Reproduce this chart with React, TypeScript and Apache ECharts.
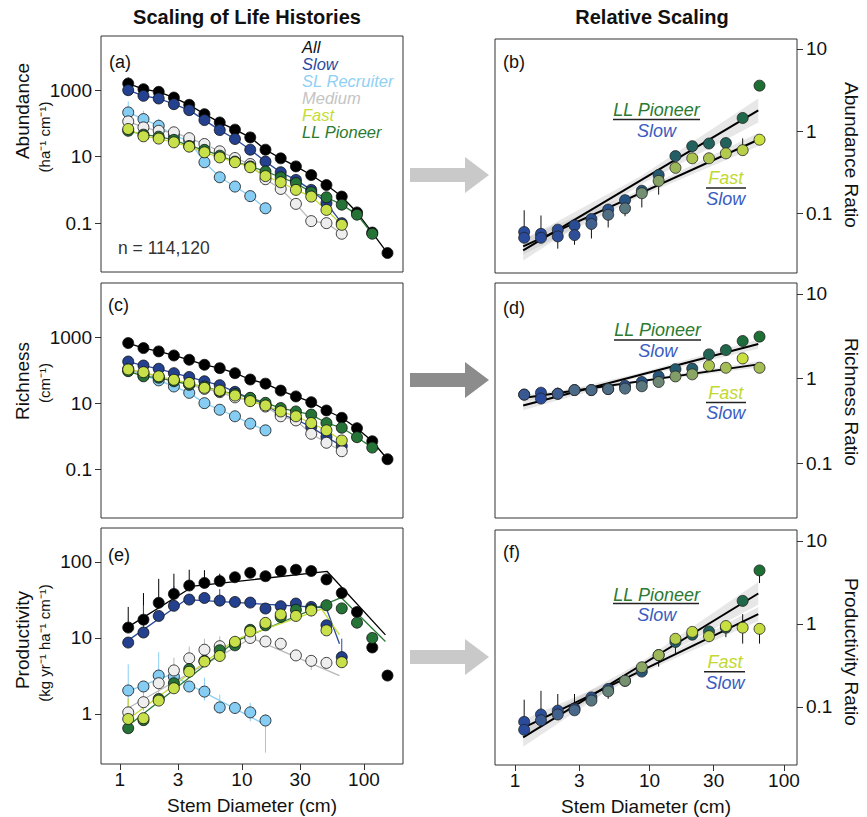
import React, { useEffect, useRef } from "react";
import * as echarts from "echarts";

// ---------- DATA ----------
const xBins = [1.17, 1.56, 2.08, 2.77, 3.7, 4.93, 6.58, 8.77, 11.7, 15.6, 20.8, 27.7, 37.0, 49.3, 65.8, 87.7, 117, 156];
const xTicks = [1, 3, 10, 30, 100];
const densTicks = [0.1, 10, 1000];
const prodTicks = [1, 10, 100];
const ratioTicks = [0.1, 1, 10];

// (a) Abundance (ha-1 cm-1)
const abAll = [1585, 1070, 890, 600, 363, 190, 107, 65, 38, 16.2, 8.9, 5.1, 2.8, 1.4, 0.63, 0.21, 0.052, 0.0126];
const abSlow = [1000, 676, 562, 380, 251, 126, 63, 34, 16.2, 7.1, 3.4, 2.0, 1.0, 0.4, 0.1];
const abSLR = [214, 135, 85, 43, 30, 6.8, 2.4, 1.26, 0.65, 0.28];
const abMed = [115, 76, 60, 54, 36, 24, 14.5, 9.1, 6.0, 2.1, 1.07, 0.38, 0.115, 0.1, 0.048];
const abFast = [68, 41, 35, 27, 20, 13.5, 9.5, 6.8, 4.8, 2.6, 1.7, 1.0, 0.63, 0.25, 0.089];
const abLLP = [60, 46, 40, 32, 21, 16, 10.7, 7.1, 5.1, 3.6, 2.4, 1.6, 0.85, 0.6, 0.36, 0.18, 0.048];
const abAllErr = [[1.17, 1585, 2400], [1.56, 1070, 1350]];
const abSLRErr = [[1.17, 214, 460], [1.56, 135, 240], [2.08, 85, 135]];

// (c) Richness (cm-1)
const rcAll = [660, 465, 370, 278, 206, 145, 115, 81, 52, 39, 24, 16, 10.7, 6.0, 3.6, 1.74, 0.7, 0.2];
const rcSlow = [182, 138, 110, 81, 62, 46, 35, 22, 14, 9, 4.6, 3.2, 1.9, 0.95, 0.5];
const rcSLR = [110, 69, 49, 32, 20.5, 10, 6.3, 4.0, 2.4, 1.5];
const rcMed = [98, 81, 62, 49, 36, 27, 21.5, 15, 12, 7.9, 4.0, 3.0, 1.18, 0.63, 0.35];
const rcFast = [105, 87, 65, 51, 41, 29, 24, 17, 11.5, 8.5, 5.6, 4.0, 2.5, 1.5, 0.74];
const rcLLP = [93, 65, 59, 46, 37, 32, 23, 19, 14.5, 10.2, 7.1, 5.6, 4.5, 2.5, 1.8, 0.93, 0.45];

// (e) Productivity (kg yr-1 ha-1 cm-1)
const prAll = [13.7, 17.4, 29, 38, 49, 53, 56, 63, 72, 65, 76, 79, 76, 59, 39, 22, 7.5, 3.2];
const prSlow = [8.7, 11.8, 19.5, 26.5, 32, 33.6, 31, 29.8, 29.2, 24.4, 26.2, 28.4, 25.6, 14.7, 5.6];
const prSLR = [2.04, 2.3, 3.2, 3.1, 2.3, 1.97, 1.22, 1.2, 1.05, 0.82];
const prMed = [1.05, 1.43, 2.54, 3.74, 5.4, 7.0, 7.8, 8.6, 10, 9.0, 8.4, 5.9, 5.0, 4.7];
const prFast = [0.86, 0.88, 1.5, 2.18, 3.6, 4.9, 5.8, 8.9, 12.2, 15.8, 20.4, 19.5, 23, 12.6, 4.8];
const prLLP = [0.65, 0.83, 1.58, 2.54, 3.9, 5.0, 6.9, 8.0, 12.8, 14.7, 18.9, 23.5, 23.8, 27, 24.5, 15.9, 10];
const prAllFit = [[1.17, 14], [4.0, 48], [50, 75], [150, 11]];
const prSlowFit = [[1.17, 9.3], [3.5, 32], [49, 25], [63, 8.4]];
const prSLRFit = [[1.17, 2.0], [2.6, 3.3], [15.6, 0.72]];
const prMedFit = [[1.17, 1.2], [12, 10], [63, 3.2]];
const prFastFit = [[1.17, 0.85], [8.8, 9.5], [45, 24], [63, 11]];
const prLLPFit = [[1.17, 0.7], [8.8, 9], [65, 34], [150, 9]];
const prAllErr = [[1.17, 13.7, 25.6], [1.56, 17.4, 39], [2.08, 29, 60], [2.77, 38, 70], [3.7, 49, 79], [4.93, 53, 78], [6.58, 56, 70]];
const prSlowErr = [[1.56, 11.8, 27], [2.77, 26.5, 48], [6.58, 31, 44], [65.8, 5.6, 9.8]];
const prSLRErr = [[1.17, 1.3, 4.5], [2.08, 2.3, 6.5], [2.77, 2.4, 4.2], [4.93, 1.5, 3.0], [6.58, 1.0, 1.8], [11.7, 0.8, 1.4], [15.6, 0.31, 1.0]];
const prMedErr = [[1.17, 0.8, 1.6], [1.56, 1.1, 2.6], [2.08, 1.9, 3.6], [2.77, 2.8, 5.5], [3.7, 4.2, 7.7], [4.93, 5.5, 9.8], [6.58, 6.5, 10.5], [37.0, 3.8, 5.5]];
const prFastErr = [[1.17, 0.6, 1.6], [3.7, 3.0, 4.5], [8.77, 7.5, 10.5], [37.0, 19, 26]];

// (b) Abundance ratio
const abLLPr = [0.060, 0.057, 0.064, 0.072, 0.086, 0.112, 0.146, 0.19, 0.295, 0.5, 0.66, 0.71, 0.72, 1.45, 3.58];
const abFastr = [0.051, 0.051, 0.053, 0.055, 0.075, 0.097, 0.116, 0.177, 0.25, 0.36, 0.47, 0.47, 0.54, 0.59, 0.79];
const abLLPLine = [[1.15, 0.0358], [64.4, 1.79]];
const abFastLine = [[1.15, 0.04], [64.4, 0.79]];
const abLLPBand = [[1.15, 0.027, 0.048], [8.6, 0.225, 0.285], [64.4, 1.28, 2.5]];
const abFastBand = [[1.15, 0.032, 0.05], [8.6, 0.163, 0.194], [64.4, 0.66, 0.95]];
const abRatioErr = [[1.17, 0.060, 0.11], [1.56, 0.057, 0.095], [2.08, 0.0376, 0.053], [2.77, 0.042, 0.055], [3.7, 0.05, 0.075], [4.93, 0.068, 0.097], [6.58, 0.093, 0.116], [8.77, 0.119, 0.177], [11.7, 0.17, 0.25], [49.3, 0.59, 0.82]];

// (d) Richness ratio
const rcLLPr = [0.645, 0.68, 0.66, 0.73, 0.73, 0.75, 0.82, 0.91, 1.06, 1.29, 1.31, 1.93, 2.17, 2.78, 3.13];
const rcFastr = [0.645, 0.58, 0.66, 0.73, 0.73, 0.75, 0.76, 0.81, 0.91, 1.06, 1.12, 1.42, 1.34, 1.73, 1.34];
const rcLLPLine = [[1.15, 0.48], [64.4, 2.56]];
const rcFastLine = [[1.15, 0.59], [64.4, 1.47]];
const rcLLPBand = [[1.15, 0.42, 0.55], [8.6, 1.05, 1.17], [64.4, 2.25, 2.9]];
const rcFastBand = [[1.15, 0.54, 0.64], [8.6, 0.9, 0.96], [64.4, 1.35, 1.6]];
const rcRatioErr = [[1.17, 0.645, 0.72], [1.56, 0.68, 0.75], [2.08, 0.66, 0.78], [65.8, 3.13, 3.4]];

// (f) Productivity ratio
const prLLPr = [0.066, 0.081, 0.090, 0.095, 0.13, 0.164, 0.206, 0.266, 0.42, 0.605, 0.74, 0.81, 0.9, 1.89, 4.4];
const prFastr = [0.053, 0.069, 0.081, 0.091, 0.119, 0.154, 0.206, 0.30, 0.42, 0.66, 0.80, 0.71, 0.94, 0.9, 0.87];
const prLLPLine = [[1.15, 0.043], [64.4, 2.32]];
const prFastLine = [[1.15, 0.056], [64.4, 1.31]];
const prLLPBand = [[1.15, 0.033, 0.056], [8.6, 0.29, 0.345], [64.4, 1.7, 3.2]];
const prFastBand = [[1.15, 0.045, 0.07], [8.6, 0.25, 0.29], [64.4, 1.08, 1.6]];
const prRatioErr = [[1.17, 0.066, 0.122], [1.56, 0.081, 0.156], [2.08, 0.081, 0.143], [2.77, 0.095, 0.143], [3.7, 0.107, 0.13], [4.93, 0.125, 0.164], [11.7, 0.305, 0.42], [15.6, 0.44, 0.66], [37.0, 0.69, 0.81], [49.3, 0.578, 1.31], [65.8, 0.578, 0.87], [65.8, 3.1, 4.4]];

// ---------- STYLE ----------
const FONT = "'Liberation Sans', Arial, Helvetica, sans-serif";
const G: Record<string, { line: string; fill: string; text: string }> = {
  all: { line: "#000000", fill: "#000000", text: "#111111" },
  slow: { line: "#2a4a9a", fill: "#24418f", text: "#2c4aa0" },
  slr: { line: "#8acff3", fill: "#86cdf3", text: "#8fd0f5" },
  med: { line: "#b8b8b8", fill: "#eeeeee", text: "#c4c4c4" },
  fast: { line: "#c4dc3c", fill: "#c8e04a", text: "#c4dc34" },
  llp: { line: "#2a7a36", fill: "#257336", text: "#2b7a30" },
};
const C_SLOW = "#2a4b9b";
const C_FAST = "#c9e03f";
const C_LLP = "#1d6f34";

const L = (v: number) => Math.log10(v);
const P = (xs: number[], ys: number[]) => ys.map((y, i) => [L(xs[i]), L(y)]);

function hex(c: string) {
  return [1, 3, 5].map((i) => parseInt(c.slice(i, i + 2), 16));
}
function mix(a: string, b: string, t: number) {
  const A = hex(a), B = hex(b);
  const r = A.map((v, i) => Math.round(v + (B[i] - v) * t));
  return `rgb(${r[0]},${r[1]},${r[2]})`;
}

const grids = [
  { left: 101, top: 36, width: 302, height: 236 },
  { left: 101, top: 283, width: 302, height: 235 },
  { left: 101, top: 528, width: 302, height: 236 },
  { left: 495, top: 39, width: 302, height: 234 },
  { left: 495, top: 283, width: 302, height: 235 },
  { left: 495, top: 530, width: 302, height: 235 },
];
const yRanges = [
  [-2.47, 4.63],
  [-2.48, 4.64],
  [-0.658, 2.447],
  [-1.72, 1.12],
  [-1.65, 1.13],
  [-1.7, 1.13],
];
const xRanges = [
  [L(0.7), L(209)],
  [L(0.7), L(209)],
  [L(0.7), L(209)],
  [L(0.71), L(125)],
  [L(0.71), L(125)],
  [L(0.71), L(125)],
];

const fmtLog = (v: number) => {
  const n = Math.pow(10, v);
  return n >= 1 ? String(Math.round(n)) : String(Number(n.toPrecision(1)));
};

function errSeries(idx: number, data: number[][], color: string, z: number) {
  return {
    type: "custom",
    xAxisIndex: idx,
    yAxisIndex: idx,
    silent: true,
    z,
    data: data.map((d) => [L(d[0]), L(d[1]), L(d[2])]),
    encode: { x: 0, y: [1, 2] },
    renderItem: (_p: any, api: any) => {
      const a = api.coord([api.value(0), api.value(1)]);
      const b = api.coord([api.value(0), api.value(2)]);
      return { type: "line", shape: { x1: a[0], y1: a[1], x2: b[0], y2: b[1] }, style: { stroke: color, lineWidth: 1 } };
    },
  };
}

function bandSeries(idx: number, band: number[][]) {
  return {
    type: "custom",
    xAxisIndex: idx,
    yAxisIndex: idx,
    silent: true,
    z: 1,
    data: [[L(band[0][0]), L(band[0][1])]],
    renderItem: (p: any, api: any) => {
      if (p.dataIndex !== 0) return null;
      const up = band.map((b) => api.coord([L(b[0]), L(b[2])]));
      const dn = band.map((b) => api.coord([L(b[0]), L(b[1])])).reverse();
      return { type: "polygon", shape: { points: up.concat(dn) }, style: { fill: "rgba(185,185,185,0.35)" } };
    },
  };
}

type SetDef = { key: string; vals: number[]; fit?: number[][]; err?: number[][] };
function leftPanel(idx: number, sets: SetDef[]) {
  const out: any[] = [];
  sets.forEach((s, k) => {
    const g = G[s.key];
    const lineData = s.fit ? s.fit.map((p) => [L(p[0]), L(p[1])]) : P(xBins, s.vals);
    out.push({
      type: "line", xAxisIndex: idx, yAxisIndex: idx, data: lineData, symbol: "none", silent: true, z: 2,
      lineStyle: { color: g.line, width: 1.3 },
    });
    if (s.err) out.push(errSeries(idx, s.err, g.line, 2));
    out.push({
      type: "scatter", xAxisIndex: idx, yAxisIndex: idx, data: P(xBins, s.vals), symbolSize: 11, silent: true, z: 3 + k,
      itemStyle: { color: g.fill, borderColor: "#111", borderWidth: 0.8, opacity: 1 },
    });
  });
  return out;
}

function ratioPoints(idx: number, vals: number[], target: string, z: number) {
  const lv = vals.map(L);
  const lo = Math.min(...lv), hi = Math.max(...lv);
  return {
    type: "scatter", xAxisIndex: idx, yAxisIndex: idx, silent: true, z, symbolSize: 11,
    data: vals.map((v, i) => ({
      value: [L(xBins[i]), L(v)],
      itemStyle: { color: mix(C_SLOW, target, (L(v) - lo) / (hi - lo)), borderColor: "#222", borderWidth: 0.8, opacity: 1 },
    })),
  };
}

function rightPanel(idx: number, llp: number[], fast: number[], llpLine: number[][], fastLine: number[][], llpBand: number[][], fastBand: number[][], err: number[][]) {
  return [
    bandSeries(idx, llpBand),
    bandSeries(idx, fastBand),
    errSeries(idx, err, "#111", 2),
    { type: "line", xAxisIndex: idx, yAxisIndex: idx, data: llpLine.map((p) => [L(p[0]), L(p[1])]), symbol: "none", silent: true, z: 3, lineStyle: { color: "#000", width: 2 } },
    { type: "line", xAxisIndex: idx, yAxisIndex: idx, data: fastLine.map((p) => [L(p[0]), L(p[1])]), symbol: "none", silent: true, z: 3, lineStyle: { color: "#000", width: 2 } },
    ratioPoints(idx, llp, C_LLP, 4),
    ratioPoints(idx, fast, C_FAST, 5),
  ];
}

function text(t: string, x: number, y: number, font: string, fill = "#111", align = "center", rotation = 0, lineHeight?: number) {
  const style: any = { text: t, font, fill, textAlign: align, align, textVerticalAlign: "middle", verticalAlign: "middle" };
  if (lineHeight) style.lineHeight = lineHeight;
  return { type: "text", x, y, rotation, silent: true, z: 50, style };
}
function hline(x1: number, x2: number, y: number) {
  return { type: "line", silent: true, z: 50, shape: { x1, y1: y, x2, y2: y }, style: { stroke: "#222", lineWidth: 1.5 } };
}
function arrow(cy: number, color: string) {
  return {
    type: "polygon", silent: true, z: 50,
    shape: { points: [[410, cy - 7], [465, cy - 7], [465, cy - 18], [489, cy], [465, cy + 18], [465, cy + 7], [410, cy + 7]] },
    style: { fill: color },
  };
}
function ratioLabel(cxTop: number, yTop: number, lineX: number[], lineY: number, ySlow: number, top: string, topColor: string) {
  return [
    text(top, cxTop, yTop, `italic 18px ${FONT}`, topColor),
    hline(lineX[0], lineX[1], lineY),
    text("Slow", cxTop, ySlow, `italic 18px ${FONT}`, "#3a5cc0"),
  ];
}

function buildOption() {
  const xAxis = grids.map((_, i) => {
    const bottom = i === 2 || i === 5;
    return {
      type: "value", gridIndex: i, min: xRanges[i][0], max: xRanges[i][1], position: "bottom",
      axisLine: { show: false, onZero: false }, splitLine: { show: false },
      axisTick: { show: bottom, customValues: xTicks.map(L), length: 6, lineStyle: { color: "#333" } },
      axisLabel: { show: bottom, customValues: xTicks.map(L), formatter: fmtLog, margin: 6, fontSize: 19, color: "#111", fontFamily: FONT },
      name: bottom ? "Stem Diameter (cm)" : "", nameLocation: "middle", nameGap: 32,
      nameTextStyle: { fontSize: 19, color: "#111", fontFamily: FONT },
    };
  });
  const yAxis = grids.map((_, i) => {
    const right = i >= 3;
    const ticks = right ? ratioTicks : i === 2 ? prodTicks : densTicks;
    return {
      type: "value", gridIndex: i, min: yRanges[i][0], max: yRanges[i][1], position: right ? "right" : "left",
      axisLine: { show: false, onZero: false }, splitLine: { show: false },
      axisTick: { show: true, customValues: ticks.map(L), length: 6, lineStyle: { color: "#333" } },
      axisLabel: { show: true, customValues: ticks.map(L), formatter: fmtLog, margin: 9, fontSize: 19, color: "#111", fontFamily: FONT },
    };
  });

  const series: any[] = [
    ...leftPanel(0, [
      { key: "all", vals: abAll, err: abAllErr },
      { key: "slow", vals: abSlow },
      { key: "slr", vals: abSLR, err: abSLRErr },
      { key: "med", vals: abMed },
      { key: "llp", vals: abLLP },
      { key: "fast", vals: abFast },
    ]),
    ...leftPanel(1, [
      { key: "all", vals: rcAll },
      { key: "slow", vals: rcSlow },
      { key: "slr", vals: rcSLR },
      { key: "med", vals: rcMed },
      { key: "llp", vals: rcLLP },
      { key: "fast", vals: rcFast },
    ]),
    ...leftPanel(2, [
      { key: "all", vals: prAll, fit: prAllFit, err: prAllErr },
      { key: "slow", vals: prSlow, fit: prSlowFit, err: prSlowErr },
      { key: "slr", vals: prSLR, fit: prSLRFit, err: prSLRErr },
      { key: "med", vals: prMed, fit: prMedFit, err: prMedErr },
      { key: "llp", vals: prLLP, fit: prLLPFit },
      { key: "fast", vals: prFast, fit: prFastFit, err: prFastErr },
    ]),
    ...rightPanel(3, abLLPr, abFastr, abLLPLine, abFastLine, abLLPBand, abFastBand, abRatioErr),
    ...rightPanel(4, rcLLPr, rcFastr, rcLLPLine, rcFastLine, rcLLPBand, rcFastBand, rcRatioErr),
    ...rightPanel(5, prLLPr, prFastr, prLLPLine, prFastLine, prLLPBand, prFastBand, prRatioErr),
  ];

  const legendNames = [["All", "all"], ["Slow", "slow"], ["SL Recruiter", "slr"], ["Medium", "med"], ["Fast", "fast"], ["LL Pioneer", "llp"]];
  const legendY = [47, 64, 81, 98, 115, 132];
  const elements: any[] = [
    text("Scaling of Life Histories", 247, 17, `bold 20px ${FONT}`),
    text("Relative Scaling", 652, 17, `bold 20px ${FONT}`),
    text("(a)", 109, 62, `18px ${FONT}`, "#111", "left"),
    text("(c)", 108, 305, `18px ${FONT}`, "#111", "left"),
    text("(e)", 108, 555, `18px ${FONT}`, "#111", "left"),
    text("(b)", 503, 62, `18px ${FONT}`, "#111", "left"),
    text("(d)", 503, 308, `18px ${FONT}`, "#111", "left"),
    text("(f)", 503, 552, `18px ${FONT}`, "#111", "left"),
    ...legendNames.map((n, i) => text(n[0], 302, legendY[i], `italic 16.5px ${FONT}`, G[n[1]].text, "left", 0, 16)),
    text("n = 114,120", 118, 248, `17.5px ${FONT}`, "#333", "left"),
    text("Abundance", 22, 111, `19px ${FONT}`, "#111", "center", Math.PI / 2),
    text("(ha\u207B\u00B9 cm\u207B\u00B9)", 44, 137, `15px ${FONT}`, "#111", "center", Math.PI / 2),
    text("Richness", 22, 381, `19px ${FONT}`, "#111", "center", Math.PI / 2),
    text("(cm\u207B\u00B9)", 44, 383, `15px ${FONT}`, "#111", "center", Math.PI / 2),
    text("Productivity", 22, 640, `19px ${FONT}`, "#111", "center", Math.PI / 2),
    text("(kg yr\u207B\u00B9 ha\u207B\u00B9 cm\u207B\u00B9)", 44, 643, `15px ${FONT}`, "#111", "center", Math.PI / 2),
    text("Abundance Ratio", 851, 155, `19px ${FONT}`, "#111", "center", -Math.PI / 2),
    text("Richness Ratio", 851, 402, `19px ${FONT}`, "#111", "center", -Math.PI / 2),
    text("Productivity Ratio", 851, 652, `19px ${FONT}`, "#111", "center", -Math.PI / 2),
    arrow(175, "#c9c9c9"),
    arrow(380, "#8c8c8c"),
    arrow(657, "#c9c9c9"),
    ...ratioLabel(656.5, 110, [613, 700], 119.5, 130.5, "LL Pioneer", "#2b7a30"),
    ...ratioLabel(725.7, 178.3, [706, 746], 188, 198.5, "Fast", "#c2d930"),
    ...ratioLabel(657.7, 330, [614, 701], 340, 351, "LL Pioneer", "#2b7a30"),
    ...ratioLabel(725.7, 393.3, [706, 746], 402.5, 413.3, "Fast", "#c2d930"),
    ...ratioLabel(656.7, 595, [613, 699], 603.5, 615, "LL Pioneer", "#2b7a30"),
    ...ratioLabel(725, 661.7, [704, 745], 671.7, 682.7, "Fast", "#c2d930"),
  ];

  return {
    animation: false,
    backgroundColor: "#ffffff",
    textStyle: { fontFamily: FONT },
    grid: grids.map((g) => ({ ...g, show: true, borderColor: "#333", borderWidth: 1, backgroundColor: "transparent", containLabel: false })),
    xAxis,
    yAxis,
    series,
    graphic: { elements },
  };
}

export default function App() {
  const ref = useRef<HTMLDivElement>(null);
  useEffect(() => {
    if (!ref.current) return;
    const chart = echarts.init(ref.current, null, { renderer: "svg" });
    chart.setOption(buildOption() as any);
    return () => chart.dispose();
  }, []);
  return <div ref={ref} style={{ position: "absolute", left: 0, top: 0, width: 867, height: 817, background: "#fff" }} />;
}
